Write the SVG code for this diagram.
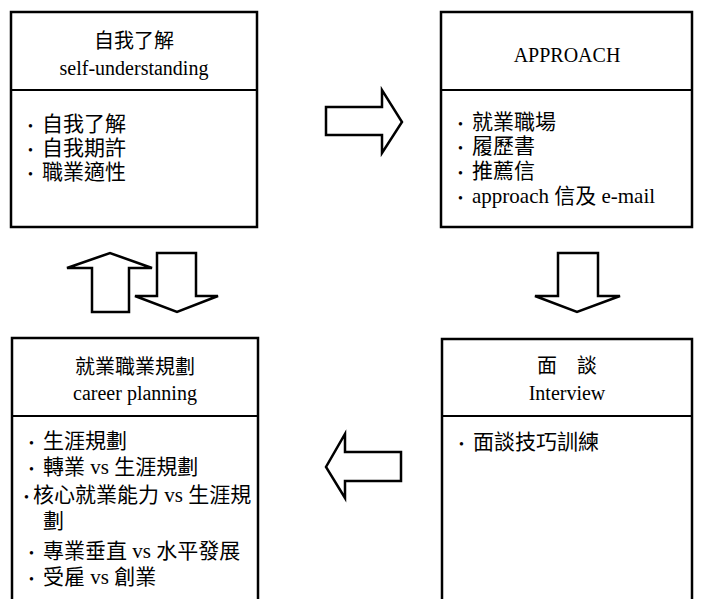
<svg xmlns="http://www.w3.org/2000/svg" width="704" height="599" viewBox="0 0 704 599">
<style>
.box{fill:#fff;stroke:#000;stroke-width:2.5}
.div{stroke:#000;stroke-width:2}
.arr{fill:#fff;stroke:#000;stroke-width:2.5;stroke-linejoin:miter}
text{font-family:"Liberation Serif","Noto Sans CJK TC",serif;font-size:20px;fill:#000}
.t{text-anchor:middle}
.b{font-size:21px}
.d{font-size:14px}
</style>
<rect width="704" height="599" fill="#fff"/>
<g id="self">
<rect class="box" x="11" y="12" width="246" height="215"/>
<line class="div" x1="11" y1="90" x2="257" y2="90"/>
<text class="t" x="134" y="48">自我了解</text>
<text class="t" x="134" y="75">self-understanding</text>
<text class="b" y="131"><tspan class="d" x="28">•</tspan><tspan x="42">自我了解</tspan></text>
<text class="b" y="155"><tspan class="d" x="28">•</tspan><tspan x="42">自我期許</tspan></text>
<text class="b" y="179"><tspan class="d" x="28">•</tspan><tspan x="42">職業適性</tspan></text>
</g>
<g id="approach">
<rect class="box" x="441" y="12" width="251" height="215"/>
<line class="div" x1="441" y1="90" x2="692" y2="90"/>
<text class="t" x="567" y="62">APPROACH</text>
<text class="b" y="129"><tspan class="d" x="458">•</tspan><tspan x="472">就業職場</tspan></text>
<text class="b" y="153"><tspan class="d" x="458">•</tspan><tspan x="472">履歷書</tspan></text>
<text class="b" y="178"><tspan class="d" x="458">•</tspan><tspan x="472">推薦信</tspan></text>
<text class="b" y="203"><tspan class="d" x="458">•</tspan><tspan x="472">approach 信及 e-mail</tspan></text>
</g>
<g id="career">
<rect class="box" x="12" y="338" width="246" height="300"/>
<line class="div" x1="12" y1="416" x2="258" y2="416"/>
<text class="t" x="135" y="374">就業職業規劃</text>
<text class="t" x="135" y="400">career planning</text>
<text class="b" y="448"><tspan class="d" x="29">•</tspan><tspan x="43">生涯規劃</tspan></text>
<text class="b" y="474"><tspan class="d" x="29">•</tspan><tspan x="43">轉業 vs 生涯規劃</tspan></text>
<text class="b" y="502"><tspan class="d" x="24">•</tspan><tspan x="33">核心就業能力 vs 生涯規</tspan></text>
<text class="b" x="43" y="528">劃</text>
<text class="b" y="558"><tspan class="d" x="29">•</tspan><tspan x="43">專業垂直 vs 水平發展</tspan></text>
<text class="b" y="584"><tspan class="d" x="29">•</tspan><tspan x="43">受雇 vs 創業</tspan></text>
</g>
<g id="interview">
<rect class="box" x="442" y="339" width="250" height="300"/>
<line class="div" x1="442" y1="416" x2="692" y2="416"/>
<text class="t" x="567" y="373">面　談</text>
<text class="t" x="567" y="400">Interview</text>
<text class="b" y="449"><tspan class="d" x="459">•</tspan><tspan x="473">面談技巧訓練</tspan></text>
</g>
<g id="connectors">
<polygon class="arr" points="326,107 382,107 382,90 402,122 382,153 382,135 326,135"/>
<polygon class="arr" points="558,253 598,253 598,296 620,296 577,312 535,296 558,296"/>
<polygon class="arr" points="401,452 345,452 345,434 326,467 345,498 345,481 401,481"/>
<polygon class="arr" points="92,312 92,268 67,268 110,253 152,268 129,268 129,312"/>
<polygon class="arr" points="157,253 196,253 196,296 218,296 177,312 135,296 157,296"/>
</g>
</svg>
